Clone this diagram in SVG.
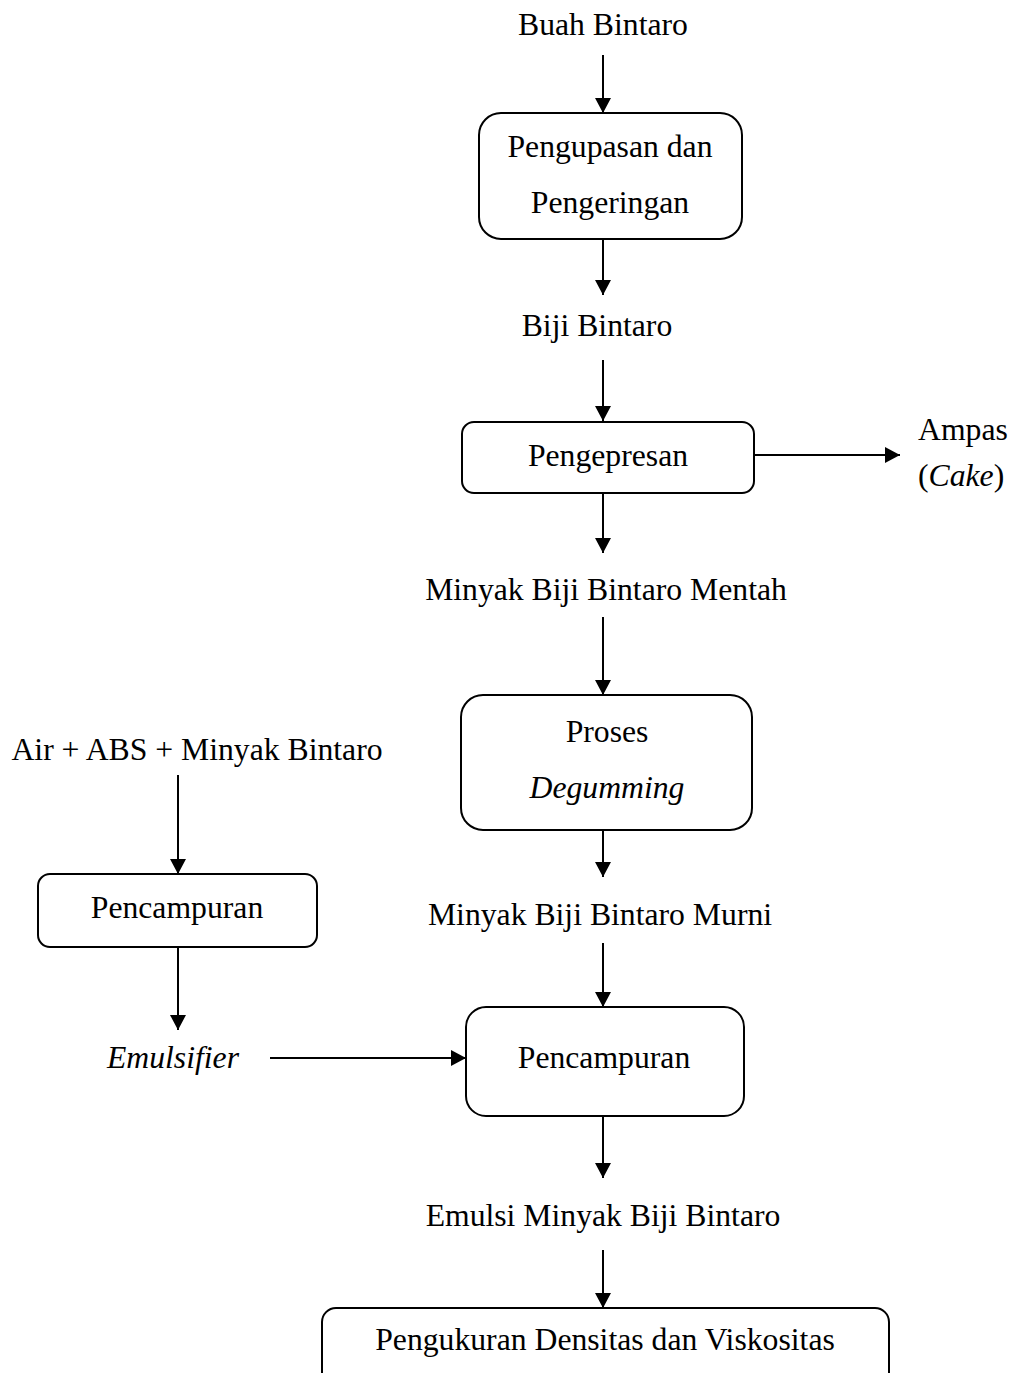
<svg xmlns="http://www.w3.org/2000/svg" width="1012" height="1373" viewBox="0 0 1012 1373">
<defs>
<marker id="ah" markerUnits="userSpaceOnUse" markerWidth="16" markerHeight="16" refX="15" refY="8" orient="auto">
<path d="M0,0 L15,8 L0,16 Z" fill="#000"/>
</marker>
<style>
text{font-family:"Liberation Serif","Times New Roman",serif;font-size:31.7px;fill:#000;text-anchor:middle}
.it{font-style:italic}
.box{fill:#fff;stroke:#000;stroke-width:2}
.c line{stroke:#000;stroke-width:2;marker-end:url(#ah)}
</style>
</defs>
<rect width="1012" height="1373" fill="#fff"/>
<g class="c" id="connectors">
<line x1="603" y1="55" x2="603" y2="113"/>
<line x1="603" y1="239" x2="603" y2="295"/>
<line x1="603" y1="360" x2="603" y2="421"/>
<line x1="754" y1="455" x2="900" y2="455"/>
<line x1="603" y1="493" x2="603" y2="553"/>
<line x1="603" y1="617" x2="603" y2="695"/>
<line x1="603" y1="830" x2="603" y2="877"/>
<line x1="603" y1="943" x2="603" y2="1007"/>
<line x1="603" y1="1116" x2="603" y2="1178"/>
<line x1="603" y1="1250" x2="603" y2="1308"/>
<line x1="178" y1="775" x2="178" y2="874"/>
<line x1="178" y1="947" x2="178" y2="1030"/>
<line x1="270" y1="1058" x2="466" y2="1058"/>
</g>
<g id="buah"><text x="603" y="35">Buah Bintaro</text></g>
<g id="kupas"><rect class="box" x="479" y="113" width="263" height="126" rx="22"/><text x="610" y="157">Pengupasan dan</text><text x="610" y="213">Pengeringan</text></g>
<g id="biji"><text x="597" y="336">Biji Bintaro</text></g>
<g id="press"><rect class="box" x="462" y="422" width="292" height="71" rx="12"/><text x="608" y="466">Pengepresan</text></g>
<g id="ampas"><text x="918" y="440" style="text-anchor:start">Ampas</text><text x="918" y="486" style="text-anchor:start">(<tspan class="it">Cake</tspan>)</text></g>
<g id="mentah"><text x="606" y="600">Minyak Biji Bintaro Mentah</text></g>
<g id="degum"><rect class="box" x="461" y="695" width="291" height="135" rx="22"/><text x="607" y="742">Proses</text><text class="it" x="607" y="798">Degumming</text></g>
<g id="murni"><text x="600" y="925">Minyak Biji Bintaro Murni</text></g>
<g id="mix2"><rect class="box" x="466" y="1007" width="278" height="109" rx="20"/><text x="604" y="1068">Pencampuran</text></g>
<g id="emulsi"><text x="603" y="1226">Emulsi Minyak Biji Bintaro</text></g>
<g id="ukur"><rect class="box" x="322" y="1308" width="567" height="80" rx="14"/><text x="605" y="1350">Pengukuran Densitas dan Viskositas</text></g>
<g id="air"><text x="197" y="760">Air + ABS + Minyak Bintaro</text></g>
<g id="mix1"><rect class="box" x="38" y="874" width="279" height="73" rx="12"/><text x="177" y="918">Pencampuran</text></g>
<g id="emulsifier"><text class="it" x="173" y="1068">Emulsifier</text></g>
</svg>
